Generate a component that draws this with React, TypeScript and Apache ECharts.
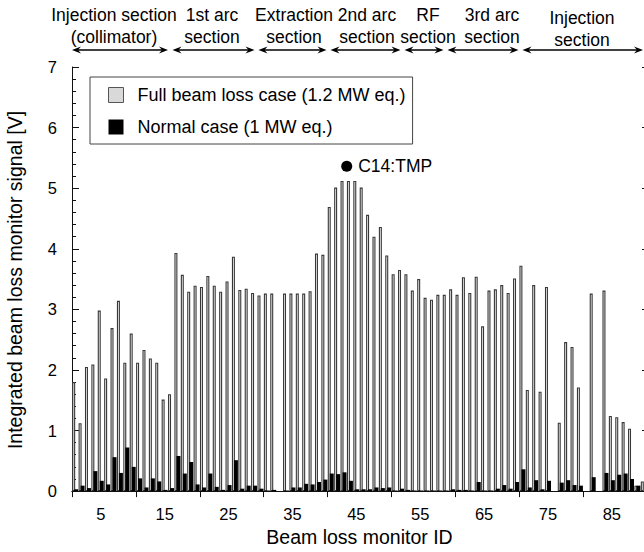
import React, { useEffect, useRef } from "react";
import * as echarts from "echarts";

// Beam loss monitor IDs (categories)
const monitorIds: string[] = Array.from({ length: 90 }, (_, i) => String(i + 1));

// Full beam loss case (1.2 MW eq.) [V]
const fullBeamLoss: (number | null)[] = [
  1.8, 1.12, 2.05, 2.09, 2.98, 1.86, 2.69, 3.14, 2.12, 2.6,
  2.12, 2.33, 2.19, 2.12, 1.51, 1.6, 3.93, 3.57, 3.29, 3.39,
  3.37, 3.55, 3.39, 3.29, 3.46, 3.87, 3.32, 3.34, 3.27, 3.23,
  3.26, 3.26, null, 3.26, 3.26, 3.26, 3.26, 3.3, 3.92, 3.9,
  4.69, 5.01, 5.12, 5.12, 5.12, 5.01, 4.56, 4.2, 4.36, 3.89,
  3.58, 3.65, 3.58, 3.31, 3.5, 3.19, 3.16, 3.24, 3.24, 3.33,
  3.24, 3.53, 3.27, 3.54, 2.72, 3.31, 3.33, 3.4, 3.27, 3.51,
  3.72, 1.67, 3.4, 1.64, 3.37, null, 1.13, 2.46, 2.38, 1.71,
  null, 3.26, null, 3.31, 1.24, 1.22, 1.14, 1.03, 0.09, 0.16,
];

// Normal case (1 MW eq.) [V]
const normalCase: (number | null)[] = [
  0.03, 0.09, 0.05, 0.33, 0.17, 0.11, 0.56, 0.3, 0.72, 0.4,
  0.21, 0.06, 0.21, 0.16, 0.02, 0.05, 0.58, 0.29, 0.48, 0.11,
  0.06, 0.29, 0.07, 0.02, 0.1, 0.51, 0.04, 0.09, 0.09, 0.04,
  0.01, 0.02, null, 0.01, 0.06, 0.06, 0.12, 0.11, 0.15, 0.19,
  0.29, 0.28, 0.31, 0.17, 0.03, 0.03, 0.03, 0.06, 0.05, 0.06,
  0.01, 0.04, 0.02, 0.01, 0.01, 0.01, 0.01, 0.01, 0.01, 0.03,
  0.02, 0.02, 0.01, 0.15, 0.01, 0.01, 0.04, 0.1, 0.04, 0.15,
  0.36, 0.06, 0.18, 0.03, 0.17, null, 0.14, 0.18, 0.1, 0.09,
  null, 0.23, null, 0.3, 0.18, 0.27, 0.29, 0.2, 0.09, null,
];

// Annotated monitor
const annotationLabel = "C14:TMP";
const annotationPoint: [number, number] = [43.5, 5.36];

// Section labels along the ring
const sectionLine1 = ["Injection section", "1st arc", "Extraction", "2nd arc", "RF", "3rd arc", "Injection"];
const sectionLine2 = ["(collimator)", "section", "section", "section", "section", "section", "section"];

const seriesNames = ["Full beam loss case (1.2 MW eq.)", "Normal case (1 MW eq.)"];

// layout (pixels)
const sectionCenters = [114, 212, 294, 367, 428, 492, 582];
const sectionArrows: [number, number][] = [
  [72, 168], [172.5, 254.5], [258.5, 326.5], [330.5, 400.5], [404.5, 443.5], [447.5, 518.5], [522.5, 643],
];

const FONT = '"Liberation Sans", Arial, Helvetica, sans-serif';

function txt(x: number, y: number, s: string, size: number, extra: any = {}) {
  return {
    type: "text",
    x,
    y,
    ...extra,
    style: {
      text: s,
      font: `${size}px ${FONT}`,
      fill: "#000",
      align: "center",
      verticalAlign: "middle",
      textAlign: "center",
      textVerticalAlign: "middle",
      ...(extra.style || {}),
    },
  };
}

function arrow(x1: number, x2: number, y: number) {
  const L = 9, W = 3.6, N = 6;
  return [
    { type: "line", shape: { x1: x1 + 3, y1: y, x2: x2 - 3, y2: y }, style: { stroke: "#000", lineWidth: 1.3 } },
    { type: "polygon", shape: { points: [[x1, y], [x1 + L, y - W], [x1 + N, y], [x1 + L, y + W]] }, style: { fill: "#000" } },
    { type: "polygon", shape: { points: [[x2, y], [x2 - L, y - W], [x2 - N, y], [x2 - L, y + W]] }, style: { fill: "#000" } },
  ];
}

export default function App() {
  const ref = useRef<HTMLDivElement>(null);
  useEffect(() => {
    if (!ref.current) return;
    const chart = echarts.init(ref.current, undefined, { renderer: "svg" });

    const graphics: any[] = [];
    sectionLine1.forEach((s, i) => {
      const dy = i === 6 ? 3 : 0;
      graphics.push(txt(sectionCenters[i], 15 + dy, s, 17.5));
      graphics.push(txt(sectionCenters[i], 37 + dy, sectionLine2[i], 17.5));
    });
    sectionArrows.forEach(([a, b]) => graphics.push(...arrow(a, b, 50)));
    graphics.push(txt(15, 280, "Integrated beam loss monitor signal [V]", 19.5, { rotation: Math.PI / 2 }));

    const axisLine = { show: true, lineStyle: { color: "#111", width: 1 } };

    chart.setOption({
      animation: false,
      backgroundColor: "#fff",
      textStyle: { fontFamily: FONT },
      grid: { left: 72, right: 3, top: 67, bottom: 54 },
      legend: {
        orient: "vertical",
        left: 90,
        top: 77,
        padding: [9, 7, 8, 18],
        itemWidth: 15,
        itemHeight: 15,
        itemGap: 14,
        borderColor: "#444",
        borderWidth: 1,
        backgroundColor: "#fff",
        textStyle: { fontSize: 18, color: "#000", fontFamily: FONT, padding: [0, 0, 0, 9] },
        data: [
          { name: seriesNames[0], icon: "rect", itemStyle: { color: "#d9d9d9", borderColor: "#555", borderWidth: 1 } },
          { name: seriesNames[1], icon: "rect", itemStyle: { color: "#000", borderWidth: 0 } },
        ],
      },
      xAxis: [
        {
          type: "category",
          data: monitorIds,
          position: "bottom",
          boundaryGap: true,
          axisLine,
          axisTick: { show: false },
          splitLine: { show: false },
          axisLabel: {
            interval: (index: number) => (index + 1) % 10 === 5,
            fontSize: 16.5,
            color: "#000",
            fontFamily: FONT,
            margin: 14,
          },
          name: "Beam loss monitor ID",
          nameLocation: "middle",
          nameGap: 32,
          nameTextStyle: { fontSize: 19.5, color: "#000", fontFamily: FONT },
        },
        {
          type: "category",
          data: monitorIds,
          position: "top",
          boundaryGap: true,
          axisLine,
          axisTick: { show: true, inside: true, length: 6, interval: 9, lineStyle: { color: "#111" } },
          axisLabel: { show: false },
          splitLine: { show: false },
        },
        { type: "value", min: 0.5, max: 90.5, show: false },
      ],
      yAxis: [
        {
          type: "value",
          min: 0,
          max: 7,
          interval: 1,
          position: "left",
          axisLine,
          axisTick: { show: true, inside: true, length: 7, lineStyle: { color: "#111" } },
          minorTick: { show: true, splitNumber: 5, length: 4, lineStyle: { color: "#111" } },
          splitLine: { show: false },
          axisLabel: { fontSize: 16.5, color: "#000", fontFamily: FONT, margin: 15 },
        },
        {
          type: "value",
          min: 0,
          max: 7,
          interval: 1,
          position: "right",
          axisLine,
          axisTick: { show: true, inside: true, length: 5, lineStyle: { color: "#111" } },
          axisLabel: { show: false },
          splitLine: { show: false },
        },
      ],
      series: [
        {
          name: seriesNames[0],
          type: "bar",
          xAxisIndex: 0,
          yAxisIndex: 0,
          data: fullBeamLoss,
          barWidth: 3,
          barGap: "-33.3%",
          itemStyle: { color: "#f4f4f4", borderColor: "#383838", borderWidth: 1.1 },
        },
        {
          name: seriesNames[1],
          type: "bar",
          xAxisIndex: 0,
          yAxisIndex: 0,
          data: normalCase,
          barWidth: 4,
          barGap: "-33.3%",
          itemStyle: { color: "#000" },
        },
        {
          name: annotationLabel,
          type: "scatter",
          xAxisIndex: 2,
          yAxisIndex: 0,
          data: [annotationPoint],
          symbol: "circle",
          symbolSize: 11,
          itemStyle: { color: "#000", opacity: 1 },
          label: {
            show: true,
            position: "right",
            distance: 6,
            formatter: annotationLabel,
            fontSize: 17.5,
            color: "#000",
            fontFamily: FONT,
          },
        },
      ],
      graphic: graphics,
    });
    return () => chart.dispose();
  }, []);

  return (
    <div style={{ position: "fixed", left: 0, top: 0, width: 644, height: 552, overflow: "hidden", background: "#fff" }}>
      <div ref={ref} style={{ width: 650, height: 552 }} />
    </div>
  );
}
